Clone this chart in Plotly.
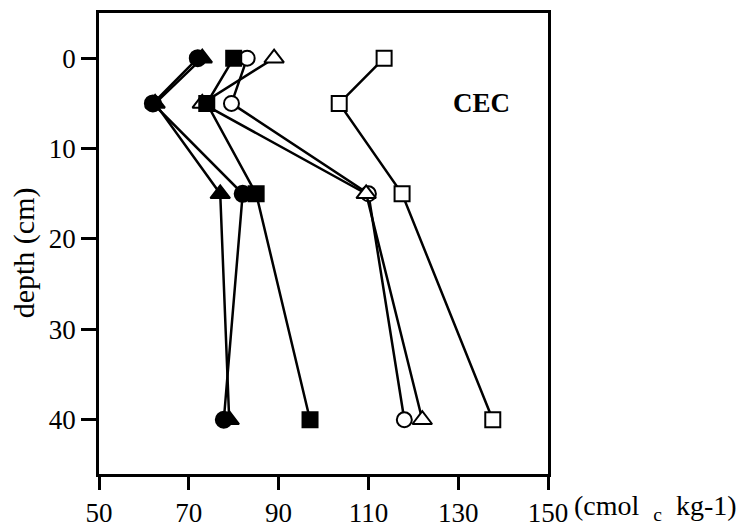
import plotly.graph_objects as go

depth = [0, 5, 15, 40]
filled_circle = [72, 62, 82, 77.8]
filled_triangle = [73, 62.5, 77, 79]
filled_square = [80, 74, 85, 97]
open_circle = [83, 79.5, 110, 118]
open_triangle = [89, 73, 109.5, 122]
open_square = [113.5, 103.5, 117.5, 137.7]

x_ticks = [50, 70, 90, 110, 130, 150]
y_ticks = [0, 10, 20, 30, 40]

series = [
    (open_square, "square", "white", 15),
    (open_circle, "circle", "white", 15),
    (open_triangle, "triangle-up", "white", 17),
    (filled_circle, "circle", "black", 16),
    (filled_triangle, "triangle-up", "black", 17),
    (filled_square, "square", "black", 15),
]

fig = go.Figure()
for vals, sym, fill, sz in series:
    fig.add_trace(go.Scatter(
        x=vals, y=depth, mode="lines+markers",
        line=dict(color="black", width=2.5),
        marker=dict(symbol=sym, size=sz, color=fill,
                    line=dict(color="black", width=2)),
        showlegend=False, cliponaxis=False,
    ))

font_family = "Liberation Serif, Times New Roman, serif"
nb = "\u00a0"
fig.update_layout(
    width=749, height=531,
    margin=dict(l=91, r=209, t=2, b=65),
    paper_bgcolor="white", plot_bgcolor="white",
    font=dict(family=font_family, size=27, color="black"),
    xaxis=dict(range=[50, 150], tickvals=x_ticks, ticks="outside", ticklen=13,
               tickwidth=2.5, tickcolor="black", showline=True, linewidth=2.5,
               linecolor="black", mirror=True, showgrid=False, zeroline=False,
               tickfont=dict(size=27, color="black")),
    yaxis=dict(range=[46, -5], tickvals=y_ticks, ticks="outside", ticklen=15,
               tickwidth=2.5, tickcolor="black", showline=True, linewidth=2.5,
               linecolor="black", mirror=True, showgrid=False, zeroline=False,
               tickfont=dict(size=27, color="black")),
    annotations=[
        dict(text="<b>CEC</b>", x=0.851, y=0.805, xref="paper", yref="paper",
             xanchor="center", yanchor="middle", showarrow=False,
             font=dict(size=27, family=font_family, color="black")),
        dict(text="depth (cm)", x=-0.168, y=0.48, xref="paper", yref="paper",
             xanchor="center", yanchor="middle", textangle=-90, showarrow=False,
             font=dict(size=30, family=font_family, color="black")),
        dict(text="(cmol" + nb * 2 + "<sub>c</sub>" + nb * 2 + "kg-1)",
             x=1.054, y=-0.072, xref="paper", yref="paper",
             xanchor="left", yanchor="middle", showarrow=False,
             font=dict(size=28, family=font_family, color="black")),
    ],
)

fig.write_html("out.html")
